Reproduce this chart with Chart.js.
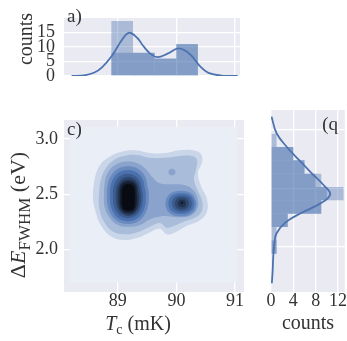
<!DOCTYPE html>
<html><head><meta charset="utf-8">
<script src="https://cdn.jsdelivr.net/npm/chart.js@4.4.1/dist/chart.umd.min.js"></script>
<style>
html,body{margin:0;padding:0;background:#fff;width:347px;height:341px;overflow:hidden;}
canvas{position:absolute;}
</style></head><body>
<canvas id="topc" width="240" height="100" style="left:0;top:0;width:240px;height:100px"></canvas>
<canvas id="mainc" width="244" height="236" style="left:0;top:105px;width:244px;height:236px"></canvas>
<canvas id="rightc" width="97" height="236" style="left:250px;top:105px;width:97px;height:236px"></canvas>
<script>
// ---------- data ----------
const tcTicks = [89, 90, 91];
const dETicks = [2.0, 2.5, 3.0];
const topCountTicks = [0, 5, 10, 15];
const rightCountTicks = [0, 4, 8, 12];

// top marginal: T_c histogram (two overlaid histograms) and KDE
const tcBinCenters = [89.075, 89.445, 89.815, 90.185];
const tcCountsA = [19, 8, 6, 11];
const tcCountsB = [8, 8, 6, 11];
const tcKdeX = [88.21, 88.45, 88.6, 88.73, 88.9, 89.07, 89.19, 89.33, 89.43, 89.55, 89.68, 89.86, 90.04, 90.23, 90.4, 90.55, 90.79, 91.05];
const tcKdeY = [0, 0.3, 1.2, 3.0, 7.0, 12.4, 14.9, 13.2, 10.5, 7.8, 6.5, 7.8, 9.5, 7.6, 3.5, 1.1, 0.1, 0];

// right marginal: Delta E histogram (two overlaid) and KDE
const dEBinCenters = [2.000, 2.114, 2.228, 2.342, 2.456, 2.570, 2.684, 2.798, 2.912];
const dECountsA = [1, 1, 3, 9, 13, 9, 6, 4, 1];
const dECountsB = [1, 0, 3, 9, 10, 8, 6, 4, 0];
const dEKdeE = [3.114, 2.972, 2.857, 2.744, 2.630, 2.530, 2.450, 2.373, 2.288, 2.210, 2.117, 2.030, 1.915, 1.800, 1.690];
const dEKdeCounts = [0.1, 1.0, 2.8, 5.0, 7.3, 9.4, 10.6, 8.9, 5.3, 2.6, 1.0, 0.6, 0.4, 0.3, 0.15];

// joint KDE contour regions, [T_c, dE]
const contourLowest = [[88.179,1.701],[91.034,1.701],[91.034,3.111],[88.179,3.111]];
const contourL1 = [[88.573,2.487],[88.607,2.641],[88.692,2.761],[88.829,2.829],[89.034,2.880],[89.291,2.897],[89.547,2.872],[89.803,2.872],[90.060,2.897],[90.282,2.897],[90.419,2.863],[90.436,2.786],[90.368,2.692],[90.419,2.573],[90.521,2.453],[90.521,2.342],[90.402,2.265],[90.179,2.214],[89.974,2.154],[89.838,2.137],[89.718,2.188],[89.547,2.154],[89.325,2.103],[89.085,2.085],[88.880,2.120],[88.726,2.205],[88.624,2.333]];
const contourL2 = [[88.675,2.487],[88.709,2.632],[88.795,2.735],[88.915,2.803],[89.103,2.846],[89.325,2.855],[89.547,2.829],[89.803,2.829],[90.060,2.846],[90.265,2.846],[90.350,2.812],[90.333,2.718],[90.299,2.641],[90.350,2.547],[90.436,2.444],[90.436,2.350],[90.333,2.291],[90.145,2.256],[89.957,2.214],[89.838,2.197],[89.718,2.239],[89.547,2.205],[89.325,2.154],[89.103,2.137],[88.915,2.162],[88.778,2.239],[88.692,2.350]];
const contourL3 = [[88.761,2.470],[88.778,2.615],[88.846,2.709],[88.966,2.769],[89.154,2.795],[89.342,2.778],[89.479,2.726],[89.581,2.658],[89.718,2.598],[89.923,2.590],[90.145,2.581],[90.299,2.530],[90.368,2.444],[90.350,2.359],[90.248,2.308],[90.077,2.291],[89.889,2.299],[89.718,2.299],[89.547,2.274],[89.376,2.222],[89.154,2.205],[88.966,2.231],[88.846,2.299],[88.778,2.376]];
const contourIsland = [[89.983,2.701],[89.967,2.723],[89.923,2.731],[89.879,2.723],[89.863,2.701],[89.879,2.679],[89.923,2.671],[89.967,2.679]];
const contourL4a = [[89.530,2.491],[89.437,2.684],[89.171,2.752],[88.905,2.684],[88.812,2.491],[88.905,2.298],[89.171,2.230],[89.437,2.298]];
const contourL4b = [[90.342,2.415],[90.273,2.500],[90.077,2.530],[89.881,2.500],[89.812,2.415],[89.881,2.330],[90.077,2.300],[90.273,2.330]];
const contourL5a = [[89.479,2.487],[89.399,2.658],[89.171,2.718],[88.943,2.658],[88.863,2.487],[88.943,2.316],[89.171,2.256],[89.399,2.316]];
const contourL5b = [[90.307,2.415],[90.249,2.485],[90.085,2.509],[89.921,2.485],[89.863,2.415],[89.921,2.345],[90.085,2.321],[90.249,2.345]];
const contourL6a = [[89.427,2.483],[89.360,2.632],[89.171,2.684],[88.982,2.632],[88.915,2.483],[88.982,2.334],[89.171,2.282],[89.360,2.334]];
const contourL6b = [[90.265,2.415],[90.221,2.469],[90.094,2.488],[89.967,2.469],[89.923,2.415],[89.967,2.361],[90.094,2.342],[90.221,2.361]];
const contourL7a = [[89.393,2.479],[89.337,2.611],[89.179,2.658],[89.021,2.611],[88.965,2.479],[89.021,2.347],[89.179,2.300],[89.337,2.347]];
const contourL7b = [[90.214,2.415],[90.183,2.456],[90.094,2.471],[90.005,2.456],[89.974,2.415],[90.005,2.374],[90.094,2.359],[90.183,2.374]];
const contourL8a = [[89.358,2.474],[89.315,2.594],[89.179,2.632],[89.043,2.594],[89.000,2.474],[89.043,2.354],[89.179,2.316],[89.315,2.354]];
const contourL8b = [[90.164,2.415],[90.146,2.440],[90.094,2.449],[90.042,2.440],[90.024,2.415],[90.042,2.390],[90.094,2.381],[90.146,2.390]];
const contourL9a = [[89.324,2.474],[89.295,2.587],[89.179,2.615],[89.063,2.587],[89.034,2.474],[89.063,2.361],[89.179,2.333],[89.295,2.361]];
const contourL9b = [[90.119,2.420],[90.112,2.429],[90.094,2.433],[90.076,2.429],[90.069,2.420],[90.076,2.411],[90.094,2.407],[90.112,2.411]];
const contourL10 = [[89.290,2.470],[89.270,2.568],[89.179,2.590],[89.088,2.568],[89.068,2.470],[89.088,2.372],[89.179,2.350],[89.270,2.372]];

// ---------- styles ----------
const textColor = '#333';
const fontFam = "'Liberation Serif','Times New Roman',serif";
const bgColor = '#EAEAF2';
const kdeColor = '#4C72B0';
const histColor = 'rgba(76,114,176,0.4)';
const levelLightness = [94, 85, 76, 67, 58, 49, 40, 31, 22, 13, 5];
const levelColor = l => `hsl(217,40%,${levelLightness[l]}%)`;

const contourLayers = [
  [contourLowest, 0, 0], [contourL1, 1, 0.4], [contourL2, 2, 0.4], [contourL3, 3, 0.4], [contourIsland, 3, 0.4],
  [contourL4a, 4, 0.4], [contourL4b, 4, 0.4], [contourL5a, 5, 0.4], [contourL5b, 5, 0.4],
  [contourL6a, 6, 0.4], [contourL6b, 6, 0.4], [contourL7a, 7, 0.4], [contourL7b, 7, 0.4],
  [contourL8a, 8, 0.4], [contourL8b, 8, 0.4], [contourL9a, 9, 0.4], [contourL9b, 9, 0.4], [contourL10, 10, 0.4]
];

Chart.defaults.font.family = fontFam;
Chart.defaults.font.size = 18;
Chart.defaults.color = textColor;

const bgPlugin = {
  id: 'bgArea',
  beforeDraw(chart) {
    const {ctx, chartArea: a} = chart;
    ctx.save(); ctx.fillStyle = bgColor;
    ctx.fillRect(a.left, a.top, a.right - a.left, a.bottom - a.top);
    ctx.restore();
  }
};

function drawRich(ctx, it) {
  const size = it.size;
  const subScale = it.subScale || 0.72;
  ctx.save();
  ctx.translate(it.x, it.y);
  ctx.rotate(it.rot || 0);
  const fnt = p => (p.it ? 'italic ' : '') + (p.sub ? Math.round(size * subScale) : size) + 'px ' + fontFam;
  let w = 0;
  it.parts.forEach(p => { ctx.font = fnt(p); w += ctx.measureText(p.t).width; });
  let cx = it.align === 'center' ? -w / 2 : 0;
  ctx.fillStyle = textColor; ctx.textAlign = 'left'; ctx.textBaseline = 'alphabetic';
  it.parts.forEach(p => {
    ctx.font = fnt(p);
    ctx.fillText(p.t, cx, p.sub ? size * 0.22 : 0);
    cx += ctx.measureText(p.t).width;
  });
  ctx.restore();
}
const richText = items => ({ id: 'richText', afterDraw(chart) { items.forEach(it => drawRich(chart.ctx, it)); } });

const gridOpts = { color: '#ffffff', lineWidth: 1.3, drawTicks: false, offset: false };
const tickFont = { size: 18, lineHeight: 1 };
const setTicks = vals => s => { s.ticks = vals.map(v => ({ value: v })); };
const common = {
  responsive: false, animation: false, events: [],
  plugins: { legend: { display: false }, tooltip: { enabled: false } }
};
const barStyle = { backgroundColor: histColor, borderWidth: 0, barPercentage: 1, categoryPercentage: 1,
                   grouped: false, inflateAmount: 0 };

// ---------- top marginal ----------
new Chart(document.getElementById('topc'), {
  type: 'bar',
  data: { datasets: [
    { type: 'line', data: tcKdeX.map((x, i) => ({ x, y: tcKdeY[i] })), borderColor: kdeColor, borderWidth: 1.8,
      pointRadius: 0, tension: 0.4, fill: false, order: 0 },
    Object.assign({ type: 'bar', data: tcBinCenters.map((x, i) => ({ x, y: tcCountsA[i] })), order: 2 }, barStyle),
    Object.assign({ type: 'bar', data: tcBinCenters.map((x, i) => ({ x, y: tcCountsB[i] })), order: 1 }, barStyle)
  ]},
  options: Object.assign({}, common, {
    layout: { padding: { top: 2, right: 0, left: 0, bottom: 0 } },
    scales: {
      x: { type: 'linear', min: 88.08, max: 91.09, offset: false, grid: gridOpts, border: { display: false },
           ticks: { display: false, autoSkip: false }, afterBuildTicks: setTicks(tcTicks), afterFit: s => { s.height = 24; } },
      y: { type: 'linear', min: 0, max: 20, grid: gridOpts, border: { display: false },
           ticks: { padding: 9, font: tickFont, autoSkip: false },
           afterBuildTicks: setTicks(topCountTicks), afterFit: s => { s.width = 64; } }
    }
  }),
  plugins: [bgPlugin, richText([
    { parts: [{ t: 'counts' }], x: 32, y: 39, rot: -Math.PI / 2, align: 'center', size: 20 },
    { parts: [{ t: 'a)' }], x: 67, y: 22, size: 19 }
  ])]
});

// ---------- joint KDE ----------
new Chart(document.getElementById('mainc'), {
  type: 'line',
  data: { datasets: contourLayers.map((layer, i) => {
    const pts = layer[0];
    const closed = layer[2] > 0 ? pts.concat([pts[0], pts[1]]) : pts.concat([pts[0]]);
    return {
      data: closed.map(p => ({ x: p[0], y: p[1] })),
      fill: 'shape', backgroundColor: levelColor(layer[1]), borderColor: 'rgba(0,0,0,0)', borderWidth: 0,
      pointRadius: 0, tension: layer[2], order: contourLayers.length - i
    };
  })},
  options: Object.assign({}, common, {
    layout: { padding: { top: 5, right: 0, left: 0, bottom: 0 } },
    scales: {
      x: { type: 'linear', min: 88.08, max: 91.154, grid: gridOpts, border: { display: false },
           ticks: { padding: 0, font: tickFont, autoSkip: false },
           afterBuildTicks: setTicks(tcTicks), afterFit: s => { s.height = 49; } },
      y: { type: 'linear', min: 1.615, max: 3.171, grid: gridOpts, border: { display: false },
           ticks: { padding: 6, font: tickFont, autoSkip: false, callback: v => Number(v).toFixed(1) },
           afterBuildTicks: setTicks(dETicks), afterFit: s => { s.width = 64; } }
    }
  }),
  plugins: [bgPlugin, richText([
    { parts: [{ t: 'c)' }], x: 67, y: 30, size: 19 },
    { parts: [{ t: 'T', it: true }, { t: 'c', sub: true }, { t: ' (mK)' }], x: 138, y: 225, align: 'center', size: 20 },
    { parts: [{ t: 'Δ' }, { t: 'E', it: true }, { t: 'FWHM', sub: true }, { t: ' (eV)' }], x: 25, y: 110,
      rot: -Math.PI / 2, align: 'center', size: 22, subScale: 0.76 }
  ])]
});

// ---------- right marginal ----------
new Chart(document.getElementById('rightc'), {
  type: 'bar',
  data: { datasets: [
    { type: 'line', data: dEKdeE.map((e, i) => ({ x: dEKdeCounts[i], y: e })), borderColor: kdeColor, borderWidth: 1.8,
      pointRadius: 0, tension: 0.4, fill: false, order: 0 },
    Object.assign({ type: 'bar', data: dEBinCenters.map((e, i) => ({ x: dECountsA[i], y: e })), order: 2 }, barStyle),
    Object.assign({ type: 'bar', data: dEBinCenters.map((e, i) => ({ x: dECountsB[i], y: e })), order: 1 }, barStyle)
  ]},
  options: Object.assign({}, common, {
    indexAxis: 'y',
    layout: { padding: { top: 5, right: 0, left: 0, bottom: 0 } },
    scales: {
      x: { type: 'linear', position: 'bottom', min: 0, max: 13.22, grid: gridOpts, border: { display: false },
           ticks: { padding: 0, font: tickFont, autoSkip: false },
           afterBuildTicks: setTicks(rightCountTicks), afterFit: s => { s.height = 49; } },
      y: { type: 'linear', min: 1.615, max: 3.171, offset: false, grid: gridOpts, border: { display: false },
           ticks: { display: false, autoSkip: false }, afterBuildTicks: setTicks(dETicks), afterFit: s => { s.width = 21; } }
    }
  }),
  plugins: [bgPlugin, richText([
    { parts: [{ t: 'counts' }], x: 58, y: 224, align: 'center', size: 20 },
    { parts: [{ t: 'b)' }], x: 88, y: 16, rot: Math.PI, size: 19 }
  ])]
});
</script>
</body></html>
